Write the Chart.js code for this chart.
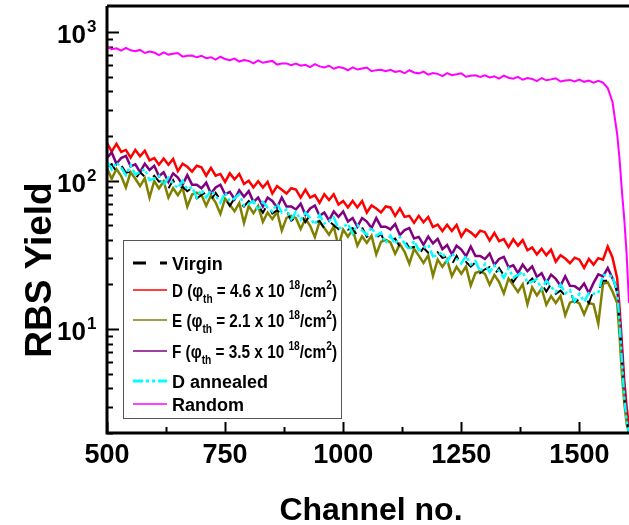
<!DOCTYPE html>
<html>
<head>
<meta charset="utf-8">
<script src="https://cdn.jsdelivr.net/npm/chart.js@4.4.0/dist/chart.umd.min.js"></script>
<style>
  html, body { margin: 0; padding: 0; background: #fff; }
</style>
</head>
<body>
<canvas id="rbsChart" width="629" height="525"></canvas>
<script>
// Channel numbers (x values)
const channels = [500,510,520,530,540,550,560,570,580,590,600,610,620,630,640,650,660,670,680,690,
  700,710,720,730,740,750,760,770,780,790,800,810,820,830,840,850,860,870,880,890,
  900,910,920,930,940,950,960,970,980,990,1000,1010,1020,1030,1040,1050,1060,1070,1080,1090,
  1100,1110,1120,1130,1140,1150,1160,1170,1180,1190,1200,1210,1220,1230,1240,1250,1260,1270,1280,1290,
  1300,1310,1320,1330,1340,1350,1360,1370,1380,1390,1400,1410,1420,1430,1440,1450,1460,1470,1480,1490,
  1500,1510,1520,1530,1540,1550,1560,1570,1580,1585,1590,1595,1600,1605];

// RBS yields
const virgin = [124.5,129.4,114.5,127.5,113,115,102.4,114.2,106.2,100.2,108,98.4,100.5,88.5,100.9,86.5,91,84.9,89.4,75.9,
  80.1,83.5,74.2,82.9,73.9,75.5,67.7,76.1,71.2,67,73,66.9,68.4,60.8,69.4,60,63.3,59.2,63,53.7,
  56.9,59.2,52.5,58.8,52.3,53.5,47.8,53.6,50.1,47.2,51.1,46.8,47.9,42.5,48.4,41.9,44.1,41.2,43.8,37.3,
  39.4,40.7,35.8,39.8,35.2,35.8,31.7,35.3,32.7,30.6,33,30.2,30.9,27.3,31.2,26.9,28.3,26.4,28.1,23.9,
  25.3,26.2,23.2,25.8,23,23.3,20.8,23.1,21.5,20.3,21.9,20,20.2,17.9,20.2,17.3,18.2,16.8,17.9,15.2,
  16,16.6,15,18.2,18.1,21.2,21.2,22.7,17.5,10.5,6,3.4,2.4,2];

const sampleD = [179,157,177,156,161,143,161,146,159,137,142,128,141,128,140,116,130,124,115,126,
  123,108,122,108,111,98,112,102,111,95,100,90,99,90,98,82,92,87,82,89,
  87,77,87,77,80,71,81,74,81,69,73,66,73,66,73,61,68,65,61,67,
  66,58,65,57,58,52,58,52.5,57,48.7,50.6,45.8,50.5,45.9,50.4,42.1,47,44.9,42,46.1,
  45,39.5,44.5,39.2,40.4,35.7,40.3,36.5,39.8,34,35.5,31.9,34.8,31.5,34.3,28.5,31.5,29.9,27.8,30.3,
  29.4,25.9,29.7,27.2,30.1,29.4,36,30.4,22,14,8,4.5,3,2.2];

const sampleE = [121,103,120,107.5,90,114,103,92,104,77,99.5,88.6,99,77,89,79.8,89.4,66.9,80.6,83,
  80,67.8,79.4,71.2,59.7,75.7,68.9,62.2,70.6,51.9,67.6,60.4,67.6,52.8,61,55.1,61.8,46.2,56.2,57.9,
  55.9,47.3,55.4,49.7,41.7,52.9,48,43.3,49.1,36.1,46.8,41.9,46.8,36.5,42.1,38.1,42.6,31.9,38.7,39.9,
  38.4,32.2,37.4,33.2,27.6,34.8,31.3,27.9,31.4,22.9,29.4,26.3,29.3,22.8,26.3,23.6,26.4,19.7,23.9,24.6,
  23.6,19.9,23.2,20.8,17.4,21.9,19.8,17.8,20.1,14.7,19.1,16.9,18.8,14.6,16.7,15,16.7,12.4,15.1,15.5,
  14.9,12.6,15,14.7,10.9,20.2,20.7,17.9,15,9,5,3.2,2.3,2];

const sampleF = [142,155,130,142,147,125,129,114,130,118,126,107,114,98,112,105,94,109,94,94,
  89,97,82,90,94,81,84,75,86,78,85,72,77,67,77,73,66,77,67,67,
  64,70,59,65,68,58,61,54,62,57,62,53,56,49,56,53,48,56,49,49,
  47,51,43,46.5,48,40.8,41.8,37,42,37.8,40.6,34.6,36.9,31.9,36.5,34.4,31,36,31.1,31.1,
  29.7,32.3,27.1,29.7,30.7,26.2,26.9,23.9,27.2,24.6,26.5,22.5,23.8,20.5,23.3,21.8,19.6,22.7,19.6,19.5,
  18.5,20.3,17.5,20.5,23.4,22.7,25.8,22,19,12,7,4,2.6,2];

const annealedD = [135,119,133,122,109,127,110,114,120,101,103,108,93,105,96,89,100,87.5,91,77,
  87,77,86,79,71,83,73,76,81,68,69.6,73,63,72,66,62,70,61,64,55,
  61.6,54.6,61,56,50.6,59,51.4,53.6,56.8,47.6,48.8,51.3,44.1,50.4,46.2,43.2,48.6,42.5,44.7,38,
  42.6,37.5,41.7,37.9,34,39.4,34.1,35.3,37.1,30.9,31.4,33,28.4,32.4,29.8,27.7,31.2,27.3,28.7,24.4,
  27.4,24.2,26.9,24.6,22.2,25.7,22.3,23.2,24.4,20.5,20.9,21.8,18.6,21.2,19.3,17.8,20,17.4,18.3,15.4,
  17.3,15.3,17.5,17.3,17.5,23.3,22.9,22.8,18,11,6,3.5,2.4,2];

const random = [798,768,779,750,783,755,743,759,724,741,729,701,732,706,715,724,684,693,696,677,
  693,668,678,654,683,659,648,664,634,650,640,617,645,622,631,640,605,614,616,600,
  614,594,603,582,609,588,579,594,567,583,574,554,579,560,569,578,546,555,558,545,
  558,540,547,529,554,535,528,542,517,531,524,506,530,513,520,528,501,509,512,500,
  512,496,504,487,510,493,486,500,478,491,484,468,491,474,481,489,465,473,477,466,
  479,463,472,457,470,458,420,340,205,140,85,55,32,15];

// Axis ticks and labels
const xMajorTicks = [500, 750, 1000, 1250, 1500];
const xMinorTicks = [625, 875, 1125, 1375];
const yMajorTicks = [10, 100, 1000];
const yExponents = ['1', '2', '3'];

// Legend text pieces: [text, 'n' | 'sub' | 'sup']
const legendParts = [
  [['Virgin', 'n']],
  [['D (', 'n'], ['\u03C6', 'n'], ['th', 'sub'], [' = 4.6 x 10 ', 'n'], ['18', 'sup'], ['/cm', 'n'], ['2', 'sup'], [')', 'n']],
  [['E (', 'n'], ['\u03C6', 'n'], ['th', 'sub'], [' = 2.1 x 10 ', 'n'], ['18', 'sup'], ['/cm', 'n'], ['2', 'sup'], [')', 'n']],
  [['F (', 'n'], ['\u03C6', 'n'], ['th', 'sub'], [' = 3.5 x 10 ', 'n'], ['18', 'sup'], ['/cm', 'n'], ['2', 'sup'], [')', 'n']],
  [['D annealed', 'n']],
  [['Random', 'n']]
];

const FONT = '"Liberation Sans", Arial, Helvetica, sans-serif';

function pts(values) {
    return values.map((v, i) => ({ x: channels[i], y: v }));
}

const datasets = [
    { label: 'Virgin', data: pts(virgin), borderColor: '#000000', borderWidth: 2, borderDash: [12, 12], order: 2 },
    { label: 'D', data: pts(sampleD), borderColor: '#ff0000', borderWidth: 2.5, order: 5 },
    { label: 'E', data: pts(sampleE), borderColor: '#808000', borderWidth: 2.5, order: 3 },
    { label: 'F', data: pts(sampleF), borderColor: '#800080', borderWidth: 2.5, order: 4 },
    { label: 'D annealed', data: pts(annealedD), borderColor: '#00ffff', borderWidth: 2.5, borderDash: [10, 3, 3, 3, 3, 3], order: 1 },
    { label: 'Random', data: pts(random), borderColor: '#ff00ff', borderWidth: 2, order: 0 }
];

// measure / draw a legend label made of normal, subscript and superscript parts
function richWidth(ctx, parts) {
    let w = 0;
    parts.forEach(([text, kind]) => {
        ctx.font = (kind === 'n' ? 'bold 18px ' : 'bold 12px ') + FONT;
        w += ctx.measureText(text).width;
    });
    return w;
}

function drawRich(ctx, x, y, parts, maxW) {
    const natural = richWidth(ctx, parts);
    const sx = maxW && natural > maxW ? maxW / natural : 1;
    ctx.save();
    ctx.translate(x, y);
    ctx.scale(sx, 1);
    let cx = 0;
    parts.forEach(([text, kind]) => {
        let dy = 0;
        if (kind === 'n') {
            ctx.font = 'bold 18px ' + FONT;
        } else {
            ctx.font = 'bold 12px ' + FONT;
            dy = kind === 'sub' ? 6 : -8;
        }
        ctx.fillText(text, cx, dy);
        cx += ctx.measureText(text).width;
    });
    ctx.restore();
}

const axisDecor = {
    id: 'axisDecor',
    beforeDatasetsDraw(chart) {
        const { ctx, chartArea: a, scales: { x, y } } = chart;
        ctx.save();
        ctx.strokeStyle = '#000';
        ctx.lineWidth = 2;
        ctx.beginPath();
        // y ticks, inward
        for (let dec = 1; dec <= 1000; dec *= 10) {
            for (let m = 1; m <= 9; m++) {
                const v = dec * m;
                if (v < y.min || v > y.max) continue;
                const py = Math.round(y.getPixelForValue(v)) + 0.5;
                const len = m === 1 ? 12 : 6;
                ctx.moveTo(a.left, py);
                ctx.lineTo(a.left + len, py);
            }
        }
        xMajorTicks.forEach(v => {
            const px = Math.round(x.getPixelForValue(v)) + 0.5;
            ctx.moveTo(px, a.bottom);
            ctx.lineTo(px, a.bottom - 11);
        });
        xMinorTicks.forEach(v => {
            const px = Math.round(x.getPixelForValue(v)) + 0.5;
            ctx.moveTo(px, a.bottom);
            ctx.lineTo(px, a.bottom - 6);
        });
        ctx.stroke();
        ctx.restore();
    },
    afterDraw(chart) {
        const { ctx, chartArea: a, scales: { x, y } } = chart;
        ctx.save();

        // frame: left, bottom, top
        ctx.strokeStyle = '#000';
        ctx.lineWidth = 3;
        ctx.beginPath();
        ctx.moveTo(a.left, a.top);
        ctx.lineTo(a.left, a.bottom);
        ctx.lineTo(a.right, a.bottom);
        ctx.moveTo(a.left, a.top);
        ctx.lineTo(a.right, a.top);
        ctx.stroke();

        ctx.fillStyle = '#000';
        // y tick labels 10^n
        yMajorTicks.forEach((v, i) => {
            const py = y.getPixelForValue(v);
            ctx.font = 'bold 26px ' + FONT;
            ctx.textAlign = 'right';
            ctx.textBaseline = 'alphabetic';
            ctx.fillText('10', 86, py + 11);
            ctx.font = 'bold 17px ' + FONT;
            ctx.textAlign = 'left';
            ctx.fillText(yExponents[i], 87, py);
        });

        // x tick labels
        ctx.font = 'bold 27px ' + FONT;
        ctx.textAlign = 'center';
        xMajorTicks.forEach(v => {
            ctx.fillText(String(v), x.getPixelForValue(v), 463);
        });

        // axis titles
        ctx.font = 'bold 32px ' + FONT;
        ctx.fillText('Channel no.', 371, 520);
        ctx.save();
        ctx.translate(51, 270);
        ctx.rotate(-Math.PI / 2);
        ctx.font = 'bold 37px ' + FONT;
        ctx.fillText('RBS Yield', 0, 0);
        ctx.restore();

        // legend box
        ctx.fillStyle = '#fff';
        ctx.fillRect(123, 240, 218, 178);
        ctx.strokeStyle = '#555';
        ctx.lineWidth = 1;
        ctx.strokeRect(123.5, 240.5, 218, 178);

        const rowY = [263, 290, 320, 351, 381, 404];
        ctx.textAlign = 'left';
        ctx.textBaseline = 'alphabetic';
        datasets.forEach((ds, i) => {
            const yy = rowY[i];
            ctx.strokeStyle = ds.borderColor;
            ctx.lineWidth = ds.borderDash ? 3 : 1.5;
            ctx.setLineDash(ds.label === 'Virgin' ? [13, 14] : (ds.borderDash || []));
            ctx.beginPath();
            ctx.moveTo(133, yy);
            ctx.lineTo(167, yy);
            ctx.stroke();
            ctx.setLineDash([]);
            ctx.fillStyle = '#000';
            drawRich(ctx, 172, yy + 6.5, legendParts[i], 165);
        });
        ctx.restore();
    }
};

const ctx = document.getElementById('rbsChart').getContext('2d');
const rbsChart = new Chart(ctx, {
    type: 'line',
    data: { datasets: datasets },
    options: {
        responsive: false,
        animation: false,
        devicePixelRatio: 1,
        layout: { padding: { top: 6, right: 0, left: 0, bottom: 0 } },
        elements: {
            point: { radius: 0 },
            line: { tension: 0, fill: false }
        },
        plugins: {
            legend: { display: false },
            tooltip: { enabled: false }
        },
        scales: {
            x: {
                type: 'linear',
                min: 500,
                max: 1605,
                grid: { display: false },
                border: { display: false },
                ticks: { display: false },
                afterFit: s => { s.height = 92; }
            },
            y: {
                type: 'logarithmic',
                min: 2,
                max: 1500,
                grid: { display: false },
                border: { display: false },
                ticks: { display: false },
                afterFit: s => { s.width = 107; }
            }
        }
    },
    plugins: [axisDecor]
});
</script>
</body>
</html>
